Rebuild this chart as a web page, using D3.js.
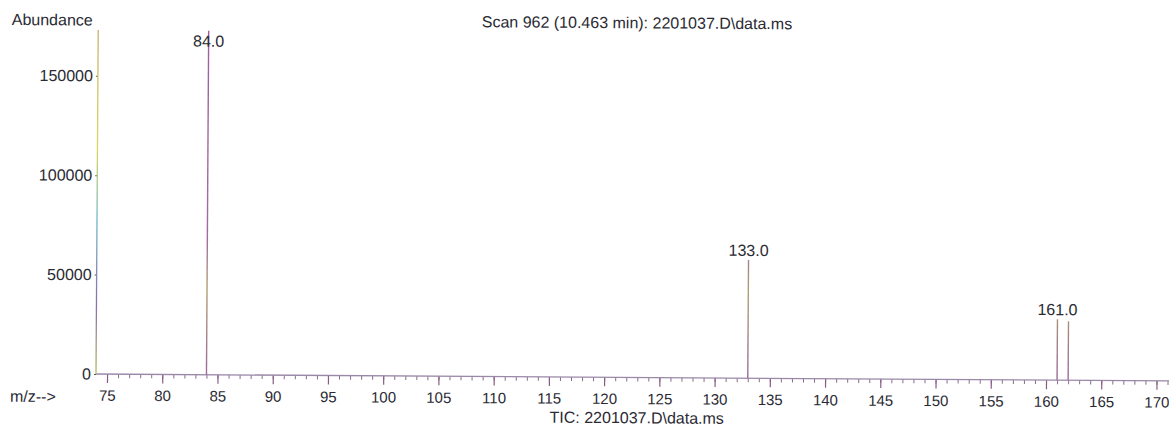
<!DOCTYPE html>
<html>
<head>
<meta charset="utf-8">
<script src="https://cdn.jsdelivr.net/npm/d3@7"></script>
<style>
  html, body { margin: 0; padding: 0; background: #ffffff; }
  svg { display: block; }
  text { font-family: "Liberation Sans", Arial, sans-serif; fill: #2a2a33; }
</style>
</head>
<body>
<div id="chart"></div>
<script>
// ---- data ----
const peakMz        = [84, 133, 161, 162];
const peakAbundance = [173000, 59500, 30700, 29700];
const peakLabels    = ["84.0", "133.0", "161.0", ""];
const yTickValues   = [0, 50000, 100000, 150000];
const xMajorTicks   = [75, 80, 85, 90, 95, 100, 105, 110, 115, 120, 125, 130, 135, 140, 145, 150, 155, 160, 165, 170];
const xMinorTicks   = d3.range(75, 172);
const titleText     = "Scan 962 (10.463 min): 2201037.D\\data.ms";
const footerText    = "TIC: 2201037.D\\data.ms";
const yAxisTitle    = "Abundance";
const xAxisTitle    = "m/z-->";
const yMax = 173000;

// ---- layout ----
const W = 1169, H = 427;
const originX = 96, originY = 374, topY = 30;
const tilt = 0.37; // scanned page is slightly rotated

const svg = d3.select("#chart").append("svg")
  .attr("width", W).attr("height", H);

const defs = svg.append("defs");
const gY = defs.append("linearGradient").attr("id", "yaxisGrad")
  .attr("gradientUnits", "userSpaceOnUse")
  .attr("x1", 0).attr("y1", topY).attr("x2", 0).attr("y2", originY);
gY.append("stop").attr("offset", "0%").attr("stop-color", "#c8b06a");
gY.append("stop").attr("offset", "35%").attr("stop-color", "#d8d860");
gY.append("stop").attr("offset", "55%").attr("stop-color", "#70b8c8");
gY.append("stop").attr("offset", "80%").attr("stop-color", "#8a70b0");
gY.append("stop").attr("offset", "100%").attr("stop-color", "#b8b860");

const gP = defs.append("linearGradient").attr("id", "peakGrad")
  .attr("gradientUnits", "userSpaceOnUse")
  .attr("x1", 0).attr("y1", topY).attr("x2", 0).attr("y2", originY);
gP.append("stop").attr("offset", "0%").attr("stop-color", "#a0609c");
gP.append("stop").attr("offset", "60%").attr("stop-color", "#a46aa0");
gP.append("stop").attr("offset", "75%").attr("stop-color", "#b0a070");
gP.append("stop").attr("offset", "100%").attr("stop-color", "#9c6a9c");

const g = svg.append("g")
  .attr("transform", `rotate(${tilt}, ${originX}, ${originY})`);

const x = d3.scaleLinear().domain([74.0, 171.13]).range([originX, W]);
const y = d3.scaleLinear().domain([0, yMax]).range([originY, topY]);

// x axis: minor ticks
const xMinor = g.append("g").attr("transform", `translate(0,${originY})`)
  .call(d3.axisBottom(x).tickValues(xMinorTicks).tickSize(4).tickFormat(""));
xMinor.select(".domain").remove();
xMinor.selectAll(".tick line").attr("stroke", "#8a6c90").attr("stroke-width", 1);

// x axis: major ticks + labels
const xMajor = g.append("g").attr("transform", `translate(0,${originY})`)
  .call(d3.axisBottom(x).tickValues(xMajorTicks).tickSize(9).tickPadding(7).tickFormat(d3.format("d")));
xMajor.select(".domain").remove();
xMajor.selectAll(".tick line").attr("stroke", "#8a5c84").attr("stroke-width", 1.2);
xMajor.selectAll(".tick text").attr("font-size", 15).style("fill", "#2a2a33");

// x axis line
g.append("line")
  .attr("x1", originX).attr("x2", W)
  .attr("y1", originY).attr("y2", originY)
  .attr("stroke", "#9a88a8").attr("stroke-width", 1.3);

// y axis
const yAx = g.append("g").attr("transform", `translate(${originX},0)`)
  .call(d3.axisLeft(y).tickValues(yTickValues).tickSize(2).tickPadding(3).tickFormat(d3.format("d")));
yAx.select(".domain").remove();
yAx.selectAll(".tick line").attr("stroke", "#555").attr("stroke-width", 1);
yAx.selectAll(".tick text").attr("font-size", 16).style("fill", "#2a2a33");

g.append("line")
  .attr("x1", originX).attr("x2", originX)
  .attr("y1", y(yMax)).attr("y2", originY)
  .attr("stroke", "url(#yaxisGrad)").attr("stroke-width", 1.3);

// peaks
const peaks = peakMz.map((m, i) => ({ m, v: peakAbundance[i], label: peakLabels[i] }));
g.selectAll(".peak").data(peaks).enter().append("line")
  .attr("class", "peak")
  .attr("x1", d => x(d.m)).attr("x2", d => x(d.m))
  .attr("y1", originY).attr("y2", d => y(Math.min(d.v, yMax)))
  .attr("stroke", "url(#peakGrad)").attr("stroke-width", 1.4);

g.selectAll(".plabel").data(peaks.filter(d => d.label)).enter().append("text")
  .attr("class", "plabel")
  .attr("x", d => x(d.m))
  .attr("y", d => Math.max(y(d.v) - 4, y(yMax) + 16))
  .attr("text-anchor", "middle")
  .attr("font-size", 16)
  .text(d => d.label);

// titles
g.append("text").attr("x", 634.7).attr("y", 24.8)
  .attr("text-anchor", "middle").attr("font-size", 16).text(titleText);
g.append("text").attr("x", 9.5).attr("y", 25.6)
  .attr("font-size", 16).text(yAxisTitle);
g.append("text").attr("x", 10.2).attr("y", 402.3)
  .attr("font-size", 16).text(xAxisTitle);
g.append("text").attr("x", 637).attr("y", 419.8)
  .attr("text-anchor", "middle").attr("font-size", 16).text(footerText);
</script>
</body>
</html>
